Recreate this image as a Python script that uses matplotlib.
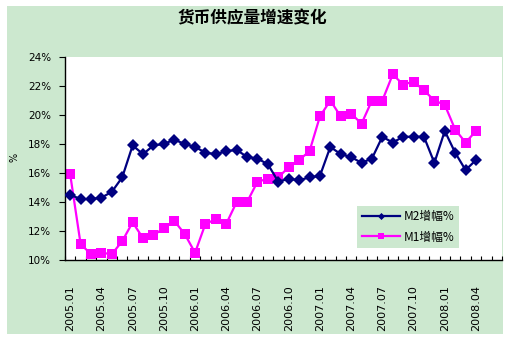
import matplotlib
matplotlib.use("Agg")
import matplotlib.pyplot as plt
from matplotlib.patches import Rectangle

plt.rcParams['font.family'] = ['Noto Sans CJK SC', 'DejaVu Sans']

months = ['2005.01', '2005.02', '2005.03', '2005.04', '2005.05', '2005.06', '2005.07', '2005.08',
          '2005.09', '2005.10', '2005.11', '2005.12', '2006.01', '2006.02', '2006.03', '2006.04',
          '2006.05', '2006.06', '2006.07', '2006.08', '2006.09', '2006.10', '2006.11', '2006.12',
          '2007.01', '2007.02', '2007.03', '2007.04', '2007.05', '2007.06', '2007.07', '2007.08',
          '2007.09', '2007.10', '2007.11', '2007.12', '2008.01', '2008.02', '2008.03', '2008.04',
          '2008.05', '2008.06']

m2 = [14.5, 14.2, 14.2, 14.3, 14.7, 15.7, 17.9, 17.3, 17.9, 18.0, 18.3, 18.0, 17.8, 17.4,
      17.3, 17.5, 17.6, 17.1, 17.0, 16.6, 15.4, 15.6, 15.5, 15.7, 15.8, 17.8, 17.3, 17.1,
      16.7, 17.0, 18.5, 18.1, 18.5, 18.5, 18.5, 16.7, 18.9, 17.4, 16.2, 16.9]

m1 = [15.9, 11.1, 10.4, 10.5, 10.4, 11.3, 12.6, 11.5, 11.7, 12.2, 12.7, 11.8, 10.5, 12.5,
      12.8, 12.5, 14.0, 14.0, 15.4, 15.6, 15.7, 16.4, 16.9, 17.5, 19.9, 21.0, 19.9, 20.1,
      19.4, 21.0, 21.0, 22.8, 22.1, 22.3, 21.7, 21.0, 20.7, 19.0, 18.1, 18.9]

yticks = [10, 12, 14, 16, 18, 20, 22, 24]
label_step = 3

BG = '#CCE8CF'
W, H = 511, 339
fig = plt.figure(figsize=(W / 100, H / 100), dpi=100)
fig.patch.set_facecolor('white')
fig.patches.append(Rectangle((7 / W, 1 - 334 / H), (503 - 7) / W, (334 - 6) / H,
                             transform=fig.transFigure, facecolor=BG, edgecolor='none', zorder=-10))

ax = fig.add_axes([65 / W, 1 - 260 / H, (502 - 65) / W, (260 - 57) / H])
ax.set_facecolor('white')

x2 = list(range(len(m2)))
x1 = list(range(len(m1)))
ax.plot(x2, m2, color='#000080', lw=1.6, marker='D', ms=6, mew=0, label='M2增幅%', zorder=3)
ax.plot(x1, m1, color='#FF00FF', lw=1.6, marker='s', ms=7.5, mew=0, label='M1增幅%', zorder=2)

ax.set_xlim(-0.5, len(months) - 0.5)
ax.set_ylim(10, 24)
ax.set_yticks(yticks)
ax.set_yticklabels([f'{v}%' for v in yticks], fontsize=7.5, family='DejaVu Sans')
pos = list(range(0, len(months), label_step))[:14]
ax.set_xticks(pos)
ax.set_xticklabels([months[i] for i in pos], rotation=90, fontsize=8, family='DejaVu Sans')
ax.set_xticks([i - 0.5 for i in range(len(months) + 1)], minor=True)
ax.tick_params(axis='x', which='major', length=0, pad=18)
ax.tick_params(axis='x', which='minor', length=3, direction='in', width=0.8)
ax.tick_params(axis='y', length=4, direction='out', width=0.8, pad=6)

for s in ['top', 'right']:
    ax.spines[s].set_visible(False)
for s in ['left', 'bottom']:
    ax.spines[s].set_linewidth(1.0)
    ax.spines[s].set_color('black')

fig.text(15 / W, 1 - 157 / H, '%', rotation=90, fontsize=7, ha='center', va='center',
         family='DejaVu Sans')
fig.text(252 / W, 1 - 18 / H, '货币供应量增速变化', fontsize=12, fontweight='bold',
         ha='center', va='center')

leg = ax.legend(loc='center', bbox_to_anchor=((340 - 65) / 437, (260 - 248) / 203,
                                              (476 - 340) / 437, (248 - 206) / 203),
                fontsize=8.5, frameon=True, fancybox=False, markerscale=0.6,
                handlelength=3.2, borderpad=0.4, labelspacing=0.6, handletextpad=0.3)
leg.get_frame().set_facecolor(BG)
leg.get_frame().set_edgecolor('none')
leg.get_frame().set_alpha(1)

fig.savefig('out.png', dpi=100, facecolor='white')
